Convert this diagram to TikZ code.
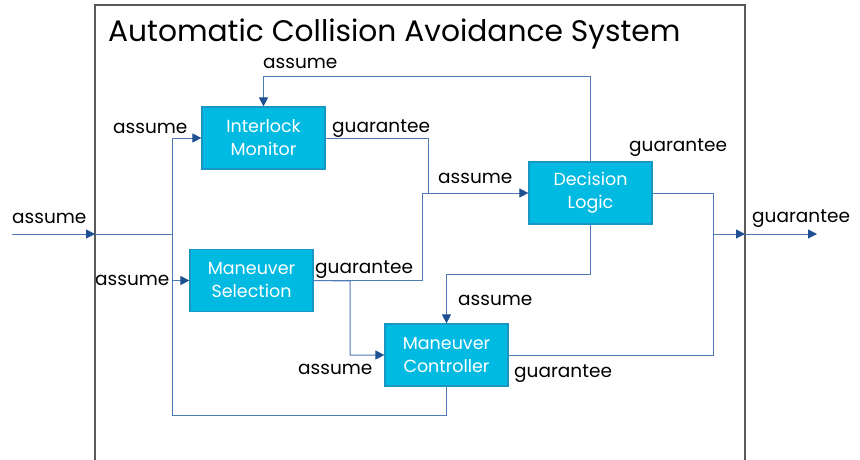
\documentclass[tikz,border=0pt]{standalone}
\usepackage{fontspec}
\setmainfont{Poppins}
\usetikzlibrary{arrows.meta}

\definecolor{boxfill}{RGB}{0,186,226}
\definecolor{boxedge}{RGB}{24,150,196}
\definecolor{wireblue}{RGB}{78,122,182}
\definecolor{tipblue}{RGB}{31,80,145}
\definecolor{sysgray}{RGB}{90,90,90}

\begin{document}
\begin{tikzpicture}[x=1pt, y=-1pt,
  block/.style={draw=boxedge, fill=boxfill, line width=1.2pt, text=white,
    minimum width=123pt, minimum height=62pt, inner sep=0pt, align=center,
    font=\fontsize{17.5}{23}\selectfont},
  wire/.style={draw=wireblue, line width=1pt},
  arr/.style={wire, -{Triangle[length=9pt, width=9pt, color=tipblue]}},
  lbl/.style={font=\fontsize{18.5}{20}\selectfont, inner sep=0pt, anchor=base west}]
  \useasboundingbox (0,0) rectangle (860,460);
  % system boundary, runs off the bottom edge
  \draw[sysgray, line width=1.5pt] (95,475) -- (95,5) -- (745,5) -- (745,475);
  \node[anchor=base west, inner sep=0pt, font=\fontsize{29.7}{34}\selectfont] (title) at (108,42) {Automatic Collision Avoidance System};
  % components
  \node[block] (im) at (263.5,138) {Interlock\\Monitor};
  \node[block] (ms) at (251.5,280.5) {Maneuver\\Selection};
  \node[block] (dl) at (590.5,193) {Decision\\Logic};
  \node[block] (mc) at (446.5,355) {Maneuver\\Controller};
  % helper points
  \coordinate (src) at (12,234);
  \coordinate (sysin) at (95,234);
  \coordinate (sysout) at (745,234);
  \coordinate (dst) at (817,234);
  \coordinate (bus) at (172,415);
  \coordinate (jn) at (428,193);
  \coordinate (jn2) at (422,193);
  \coordinate (tap) at (350,281);
  \coordinate (topy) at (0,77);
  \coordinate (boty) at (0,274);
  \coordinate (outx) at (713,234);
  % input bus
  \draw[arr] (src) -- (sysin);
  \draw[wire] (sysin) -- (bus |- sysin);
  \draw[wire] (bus |- im.west) -- (bus) -| (mc.south);
  \draw[arr] (bus |- im.west) -- (im.west);
  \draw[arr] (bus |- ms.west) -- (ms.west);
  % guarantees into decision logic
  \draw[wire] (im.east) -| (jn);
  \draw[wire] (ms.east) -| (jn2);
  \draw[arr] (jn2) -- (dl.west);
  \draw[arr] (ms.east) -- (tap) |- (mc.west);
  % decision logic feedback
  \draw[arr] (dl.north) |- (im.north |- topy) -- (im.north);
  \draw[arr] (dl.south) |- (mc.north |- boty) -- (mc.north);
  % outputs
  \draw[wire] (dl.east) -| (outx);
  \draw[wire] (mc.east) -| (outx);
  \draw[arr] (outx) -- (sysout);
  \draw[arr] (sysout) -- (dst);
  % assume / guarantee labels
  \foreach \x/\y/\t [count=\i] in {12/223/assume, 113/133/assume, 95/285/assume,
      263/69/assume, 438/183/assume, 458/305/assume, 298/374/assume,
      332/132/guarantee, 315/273/guarantee, 629/151/guarantee,
      514/377/guarantee, 752/222/guarantee}
    \node[lbl] (lab\i) at (\x,\y) {\t};
\end{tikzpicture}
\end{document}
